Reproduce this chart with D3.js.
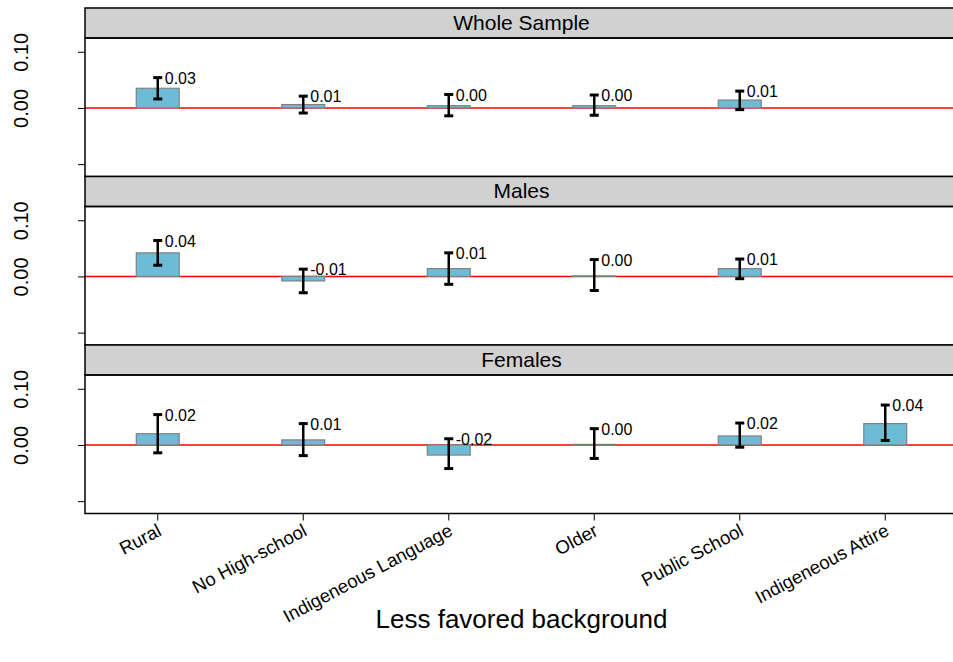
<!DOCTYPE html>
<html>
<head>
<meta charset="utf-8">
<script src="https://cdn.jsdelivr.net/npm/d3@7"></script>
<style>
  body { margin: 0; background: #fff; }
  svg { font-family: "Liberation Sans", Arial, sans-serif; }
</style>
</head>
<body>
<svg id="chart"></svg>
<script>
const width = 953;
const height = 662;

// categories and panels
const categories = ['Rural', 'No High-school', 'Indigeneous Language', 'Older', 'Public School', 'Indigeneous Attire'];
const panels = ['Whole Sample', 'Males', 'Females'];

// estimates (null = not shown)
const wholeEst = [0.035, 0.006, 0.004, 0.004, 0.014, null];
const wholeLo  = [0.016, -0.009, -0.014, -0.013, -0.003, null];
const wholeHi  = [0.054, 0.021, 0.024, 0.023, 0.030, null];
const wholeLab = ['0.03', '0.01', '0.00', '0.00', '0.01', null];

const malesEst = [0.042, -0.008, 0.014, 0.001, 0.014, null];
const malesLo  = [0.020, -0.029, -0.014, -0.025, -0.004, null];
const malesHi  = [0.064, 0.013, 0.042, 0.030, 0.031, null];
const malesLab = ['0.04', '-0.01', '0.01', '0.00', '0.01', null];

const femEst = [0.020, 0.009, -0.018, 0.001, 0.016, 0.038];
const femLo  = [-0.014, -0.019, -0.042, -0.024, -0.004, 0.008];
const femHi  = [0.054, 0.038, 0.011, 0.029, 0.039, 0.071];
const femLab = ['0.02', '0.01', '-0.02', '0.00', '0.02', '0.04'];

const yTicks = [-0.1, 0, 0.1];

const series = [
    { est: wholeEst, lo: wholeLo, hi: wholeHi, lab: wholeLab },
    { est: malesEst, lo: malesLo, hi: malesHi, lab: malesLab },
    { est: femEst, lo: femLo, hi: femHi, lab: femLab }
];

const margin = { left: 85, right: 958, top: 8 };
const stripH = 30;
const panelH = 138.5;

const svg = d3.select('#chart')
    .attr('width', width)
    .attr('height', height);

const x = d3.scaleBand()
    .domain(categories)
    .range([margin.left, margin.right])
    .padding(0);

const barW = x.bandwidth() * 0.295;

panels.forEach((name, i) => {
    const stripTop = margin.top + i * (stripH + panelH);
    const plotTop = stripTop + stripH;
    const plotBottom = plotTop + panelH;

    const y = d3.scaleLinear()
        .domain([-0.122, 0.1245])
        .range([plotBottom, plotTop]);

    const g = svg.append('g');

    // strip
    g.append('rect')
        .attr('x', margin.left).attr('y', stripTop)
        .attr('width', margin.right - margin.left).attr('height', stripH)
        .attr('fill', '#d1d1d1')
        .attr('stroke', '#000').attr('stroke-width', 1.5);

    g.append('text')
        .attr('x', (margin.left + margin.right) / 2)
        .attr('y', stripTop + stripH / 2 + 1)
        .attr('text-anchor', 'middle')
        .attr('dominant-baseline', 'middle')
        .attr('font-size', 21)
        .text(name);

    // y axis
    const yAxis = d3.axisLeft(y)
        .tickValues(yTicks)
        .tickSize(7)
        .tickFormat(d => d === -0.1 ? '' : d3.format('.2f')(d));

    const ya = g.append('g')
        .attr('transform', `translate(${margin.left},0)`)
        .call(yAxis);
    ya.select('.domain').remove();
    ya.selectAll('line').attr('stroke', '#000');
    ya.selectAll('text')
        .attr('font-size', 20)
        .attr('fill', '#000')
        .attr('x', 0)
        .attr('y', 0)
        .attr('dy', 0)
        .attr('text-anchor', 'middle')
        .attr('dominant-baseline', 'middle')
        .attr('transform', 'translate(-62,0) rotate(-90)');

    // zero line
    g.append('line')
        .attr('x1', margin.left).attr('x2', margin.right)
        .attr('y1', y(0)).attr('y2', y(0))
        .attr('stroke', '#ff0000').attr('stroke-width', 1.5);

    const s = series[i];
    const rows = categories.map((c, k) => ({
        cat: c, est: s.est[k], lo: s.lo[k], hi: s.hi[k], lab: s.lab[k]
    })).filter(d => d.est !== null);

    // bars
    g.selectAll('rect.bar')
        .data(rows)
        .enter()
        .append('rect')
        .attr('class', 'bar')
        .attr('x', d => x(d.cat) + x.bandwidth() / 2 - barW / 2)
        .attr('y', d => y(Math.max(0, d.est)))
        .attr('width', barW)
        .attr('height', d => Math.max(0.5, Math.abs(y(d.est) - y(0))))
        .attr('fill', '#6dbcd7')
        .attr('stroke', '#808080')
        .attr('stroke-width', 1.2);

    // error bars
    const eb = g.selectAll('g.err')
        .data(rows)
        .enter()
        .append('g')
        .attr('class', 'err')
        .attr('stroke', '#000')
        .attr('stroke-width', 2.5);

    eb.append('line')
        .attr('x1', d => x(d.cat) + x.bandwidth() / 2)
        .attr('x2', d => x(d.cat) + x.bandwidth() / 2)
        .attr('y1', d => y(d.lo))
        .attr('y2', d => y(d.hi));

    ['lo', 'hi'].forEach(k => {
        eb.append('line')
            .attr('x1', d => x(d.cat) + x.bandwidth() / 2 - 4.5)
            .attr('x2', d => x(d.cat) + x.bandwidth() / 2 + 4.5)
            .attr('y1', d => y(d[k]))
            .attr('y2', d => y(d[k]))
            .attr('stroke-width', 3);
    });

    // value labels
    g.selectAll('text.val')
        .data(rows)
        .enter()
        .append('text')
        .attr('class', 'val')
        .attr('x', d => x(d.cat) + x.bandwidth() / 2 + 7)
        .attr('y', d => y(d.hi) + 2)
        .attr('dominant-baseline', 'middle')
        .attr('font-size', 16)
        .text(d => d.lab);

    // panel border
    g.append('rect')
        .attr('x', margin.left).attr('y', plotTop)
        .attr('width', margin.right - margin.left).attr('height', panelH)
        .attr('fill', 'none')
        .attr('stroke', '#000').attr('stroke-width', 1.5);

    // bottom axis on last panel
    if (i === panels.length - 1) {
        const xAxis = d3.axisBottom(x).tickSize(7).tickSizeOuter(0);
        const xa = g.append('g')
            .attr('transform', `translate(0,${plotBottom})`)
            .call(xAxis);
        xa.select('.domain').remove();
        xa.selectAll('line').attr('stroke', '#000');
        xa.selectAll('text')
            .attr('font-size', 18.5)
            .attr('fill', '#000')
            .attr('text-anchor', 'end')
            .attr('dy', 0)
            .attr('y', 0)
            .attr('transform', 'translate(5,21) rotate(-28)');
    }
});

svg.append('text')
    .attr('x', (margin.left + margin.right) / 2)
    .attr('y', 628)
    .attr('text-anchor', 'middle')
    .attr('font-size', 26)
    .text('Less favored background');
</script>
</body>
</html>
